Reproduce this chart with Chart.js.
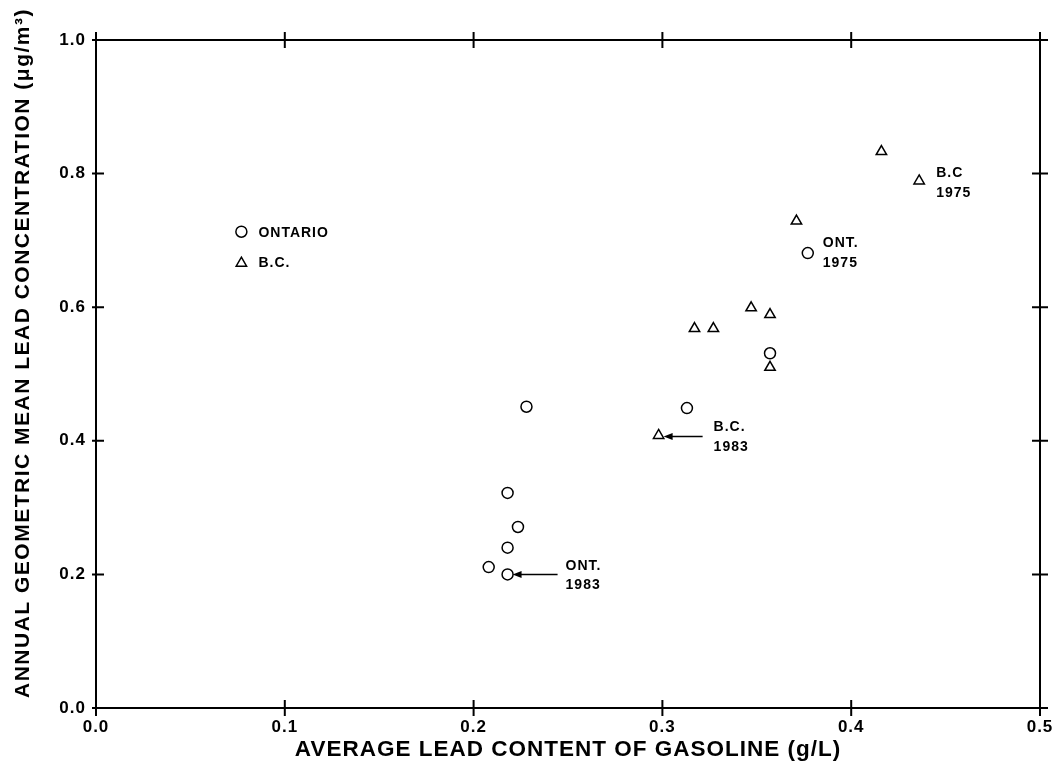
<!DOCTYPE html>
<html>
<head>
<meta charset="utf-8">
<script src="https://cdn.jsdelivr.net/npm/chart.js@4.4.0/dist/chart.umd.min.js"></script>
<style>
html, body { margin: 0; padding: 0; background: #fff; }
#wrap { width: 1053px; height: 773px; }
</style>
</head>
<body>
<div id="wrap"><canvas id="leadChart"></canvas></div>
<script>
// 数据
const ontX = [0.208, 0.218, 0.218, 0.2235, 0.218, 0.228, 0.313, 0.357, 0.377];
const ontY = [0.211, 0.200, 0.240, 0.271, 0.322, 0.451, 0.449, 0.531, 0.681];
const bcX = [0.298, 0.317, 0.327, 0.347, 0.357, 0.357, 0.371, 0.416, 0.436];
const bcY = [0.408, 0.568, 0.568, 0.599, 0.589, 0.510, 0.729, 0.833, 0.789];
const xTicks = [0.0, 0.1, 0.2, 0.3, 0.4, 0.5];
const yTicks = [0.0, 0.2, 0.4, 0.6, 0.8, 1.0];
const legendNames = ['ONTARIO', 'B.C.'];
const xTitle = 'AVERAGE LEAD CONTENT OF GASOLINE (g/L)';
const yTitle = 'ANNUAL GEOMETRIC MEAN LEAD CONCENTRATION (\u03bcg/m\u00b3)';

const FAMILY = '"Liberation Sans", Arial, sans-serif';
const BOLD = 'bold 14px ' + FAMILY;

function toPts(xs, ys) { return xs.map((x, i) => ({x: x, y: ys[i]})); }

// 字距 (原图字母比较松)
const spacingPlugin = {
  id: 'spacing',
  beforeUpdate(chart) { chart.ctx.letterSpacing = '1px'; },
  beforeDraw(chart) { chart.ctx.letterSpacing = '1px'; }
};

// 边框和交叉刻度
const framePlugin = {
  id: 'frame',
  afterDraw(chart) {
    const ctx = chart.ctx, a = chart.chartArea;
    const xs = chart.scales.x, ys = chart.scales.y;
    ctx.save();
    ctx.strokeStyle = '#000';
    ctx.lineWidth = 2;
    ctx.strokeRect(a.left, a.top, a.right - a.left, a.bottom - a.top);
    ctx.beginPath();
    xTicks.forEach(v => {
      const px = xs.getPixelForValue(v);
      ctx.moveTo(px, a.bottom - 8); ctx.lineTo(px, a.bottom + 8);
      ctx.moveTo(px, a.top - 8); ctx.lineTo(px, a.top + 8);
    });
    yTicks.forEach(v => {
      const py = ys.getPixelForValue(v);
      ctx.moveTo(a.left - 4, py); ctx.lineTo(a.left + 8, py);
      ctx.moveTo(a.right - 8, py); ctx.lineTo(a.right + 8, py);
    });
    ctx.stroke();

    // y 轴标题
    ctx.font = 'bold 21px ' + FAMILY;
    ctx.letterSpacing = '1.5px';
    ctx.fillStyle = '#000';
    ctx.textAlign = 'center';
    ctx.textBaseline = 'middle';
    ctx.translate(23, 353);
    ctx.rotate(-Math.PI / 2);
    ctx.fillText(yTitle, 0, 0);
    ctx.restore();
  }
};

function arrow(ctx, x1, y, x2) {
  ctx.beginPath();
  ctx.moveTo(x1, y); ctx.lineTo(x2 + 6, y);
  ctx.stroke();
  ctx.beginPath();
  ctx.moveTo(x2, y); ctx.lineTo(x2 + 9, y - 3.5); ctx.lineTo(x2 + 9, y + 3.5);
  ctx.closePath(); ctx.fill();
}

// 图例与注释
const notesPlugin = {
  id: 'notes',
  afterDraw(chart) {
    const ctx = chart.ctx;
    const xs = chart.scales.x, ys = chart.scales.y;
    const P = (x, y) => [xs.getPixelForValue(x), ys.getPixelForValue(y)];
    ctx.save();
    ctx.strokeStyle = '#000';
    ctx.lineWidth = 1.5;

    // legend
    const lx = xs.getPixelForValue(0.077), ly1 = ys.getPixelForValue(0.713), ly2 = ly1 + 30;
    ctx.fillStyle = '#fff';
    Chart.helpers.drawPoint(ctx, {pointStyle: 'circle', radius: 5.5, borderWidth: 1.5}, lx, ly1);
    Chart.helpers.drawPoint(ctx, {pointStyle: 'triangle', radius: 6, borderWidth: 1.5}, lx, ly2 + 1.5);

    ctx.fillStyle = '#000';
    ctx.font = BOLD; ctx.textBaseline = 'middle'; ctx.textAlign = 'left';
    ctx.letterSpacing = '1px';
    ctx.fillText(legendNames[0], lx + 17, ly1 + 1);
    ctx.fillText(legendNames[1], lx + 17, ly2 + 1);

    // ONT. 1975
    let [px, py] = P(ontX[8], ontY[8]);
    ctx.fillText('ONT.', px + 15, py - 10);
    ctx.fillText('1975', px + 15, py + 10);
    // B.C 1975
    [px, py] = P(bcX[8], bcY[8]);
    ctx.fillText('B.C', px + 17, py - 8);
    ctx.fillText('1975', px + 17, py + 12);
    // B.C. 1983
    [px, py] = P(bcX[0], bcY[0]);
    ctx.fillText('B.C.', px + 55, py - 8);
    ctx.fillText('1983', px + 55, py + 12);
    arrow(ctx, px + 44, py + 1, px + 5);
    // ONT. 1983
    [px, py] = P(ontX[1], ontY[1]);
    ctx.fillText('ONT.', px + 58, py - 8);
    ctx.fillText('1983', px + 58, py + 11);
    arrow(ctx, px + 50, py, px + 5);
    ctx.restore();
  }
};

new Chart(document.getElementById('leadChart'), {
  type: 'scatter',
  data: {
    datasets: [
      {label: legendNames[0], data: toPts(ontX, ontY), pointStyle: 'circle', pointRadius: 5.5,
       borderColor: '#000', backgroundColor: '#fff', borderWidth: 1.5},
      {label: legendNames[1], data: toPts(bcX, bcY), pointStyle: 'triangle', pointRadius: 6,
       borderColor: '#000', backgroundColor: '#fff', borderWidth: 1.5}
    ]
  },
  options: {
    responsive: true,
    maintainAspectRatio: false,
    devicePixelRatio: 1,
    animation: false,
    clip: false,
    layout: {padding: {left: 0, top: 40, right: 13, bottom: 0}},
    plugins: {legend: {display: false}, tooltip: {enabled: false}},
    scales: {
      x: {
        type: 'linear', min: 0, max: 0.5,
        afterFit: s => { s.height = 65; s.paddingLeft = 0; s.paddingRight = 0; },
        afterBuildTicks: s => { s.ticks = xTicks.map(v => ({value: v})); },
        grid: {display: false, drawTicks: false},
        border: {display: false},
        ticks: {color: '#000', padding: 9, maxRotation: 0,
                font: {family: FAMILY, size: 17, weight: 'bold'}, callback: v => v.toFixed(1)},
        title: {display: true, text: xTitle, color: '#000', padding: {top: 4, bottom: 10},
                font: {family: FAMILY, size: 22.5, weight: 'bold'}}
      },
      y: {
        type: 'linear', min: 0, max: 1,
        afterFit: s => { s.width = 96; s.paddingTop = 0; s.paddingBottom = 0; },
        afterBuildTicks: s => { s.ticks = yTicks.map(v => ({value: v})); },
        grid: {display: false, drawTicks: false},
        border: {display: false},
        ticks: {color: '#000', padding: 10,
                font: {family: FAMILY, size: 17, weight: 'bold'}, callback: v => v.toFixed(1)},
        title: {display: false}
      }
    }
  },
  plugins: [spacingPlugin, framePlugin, notesPlugin]
});
</script>
</body>
</html>
